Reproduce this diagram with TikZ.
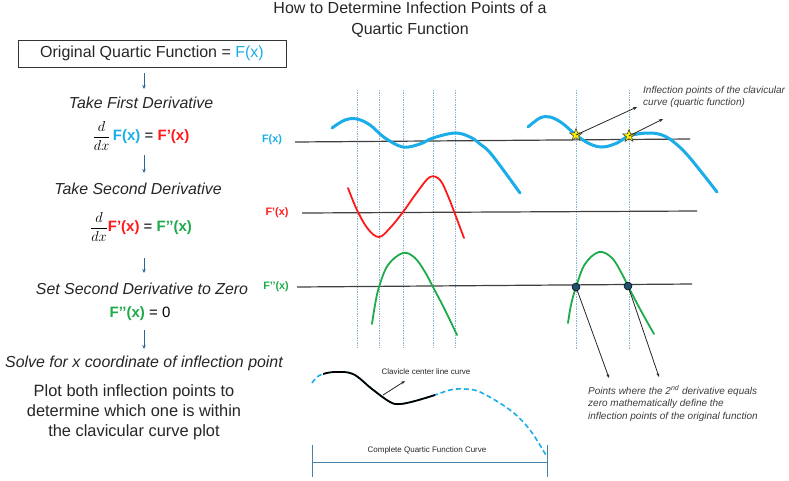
\documentclass[tikz,border=0pt]{standalone}
\usepackage{fontspec}
\setmainfont{Liberation Sans}
\usetikzlibrary{arrows.meta,shapes.geometric}
\definecolor{fblue}{HTML}{1AADE8}
\definecolor{fred}{HTML}{FF1A1A}
\definecolor{fgreen}{HTML}{1DAA4A}
\definecolor{flowarrow}{HTML}{2E6696}
\definecolor{guide}{HTML}{8DB3CE}
\definecolor{axisgray}{HTML}{3F3F3F}
\definecolor{dotfill}{HTML}{1E5070}
\definecolor{bracketcol}{HTML}{4A7FA8}
\definecolor{txtgray}{HTML}{262626}
\newcommand{\fsz}[2]{\fontsize{#1}{#2}\selectfont}
\newcommand{\ddxfrac}{$\displaystyle\frac{d}{dx}$}
\begin{document}
\begin{tikzpicture}[x=1pt,y=-1pt,
  flowarr/.style={draw=flowarrow, line width=0.9pt, -{Stealth[length=4pt,width=3.5pt]}},
  guideline/.style={draw=guide, line width=0.7pt, densely dotted},
  axisline/.style={draw=axisgray, line width=1.2pt},
  ptr/.style={draw=black!85, line width=0.8pt, -{Stealth[length=4pt,width=3pt]}},
  steptext/.style={font=\fsz{15.9}{19}\itshape, text=txtgray},
  eqtext/.style={font=\fsz{15}{18}},
  fnlabel/.style={font=\fsz{10.8}{12}\bfseries},
  note/.style={font=\fsz{10}{12.3}\itshape, text=txtgray!90, align=left, anchor=west, inner sep=0},
  small/.style={font=\fsz{8}{9}, text=txtgray, inner sep=0},
  curveF/.style={draw=fblue, line width=3pt, line cap=round},
  curveD/.style={draw=fred, line width=1.8pt, line cap=round},
  curveDD/.style={draw=fgreen, line width=1.8pt, line cap=round},
  starmark/.style={star, star points=5, star point ratio=2.4, fill=yellow, draw=black!75, line width=0.6pt, minimum size=13pt, inner sep=0},
  dotmark/.style={circle, fill=dotfill, draw=black, line width=0.5pt, minimum size=8pt, inner sep=0}
]
\useasboundingbox (0,0) rectangle (789,480);

% title
\node[align=center, font=\fsz{16}{21}, text=txtgray] (title) at (410,20) {How to Determine Infection Points of a\\Quartic Function};

% left flow
\node[draw=black!80, line width=0.9pt, minimum width=268pt, minimum height=27pt, font=\fsz{16}{18}, text=txtgray] (orig) at (152,53.5) {Original Quartic Function = {\color{fblue}F(x)}};
\coordinate (a1s) at (144,73); \coordinate (a1e) at (144,89);
\draw[flowarr] (a1s) -- (a1e);
\node[steptext] (t1) at (141,103) {Take First Derivative};
\node[eqtext] (e1) at (141,136) {\ddxfrac\,{\bfseries\color{fblue}F(x)} = {\bfseries\color{fred}F’(x)}};
\coordinate (a2s) at (144,155); \coordinate (a2e) at (144,173);
\draw[flowarr] (a2s) -- (a2e);
\node[steptext] (t2) at (138,189) {Take Second Derivative};
\node[eqtext] (e2) at (141,227) {\ddxfrac{\bfseries\color{fred}F’(x)} = {\bfseries\color{fgreen}F’’(x)}};
\coordinate (a3s) at (144,258); \coordinate (a3e) at (144,273);
\draw[flowarr] (a3s) -- (a3e);
\node[steptext] (t3) at (142,289) {Set Second Derivative to Zero};
\node[eqtext] (e3) at (140,314) {{\bfseries\color{fgreen}F’’(x)} = 0};
\coordinate (a4s) at (144,330); \coordinate (a4e) at (144,349);
\draw[flowarr] (a4s) -- (a4e);
\node[steptext] (t4) at (144,363) {Solve for x coordinate of inflection point};
\node[align=center, font=\fsz{16.4}{20}, text=txtgray] (t5) at (134,412) {Plot both inflection points to\\determine which one is within\\the clavicular curve plot};

% guide lines
\foreach \gx/\gn in {357/g1,379/g2,403/g3,433/g4,455/g5}{
  \coordinate (\gn t) at (\gx,90); \coordinate (\gn b) at (\gx,347);
  \draw[guideline] (\gn t) -- (\gn b);
}
\foreach \gx/\gn in {576/h1,629/h2}{
  \coordinate (\gn t) at (\gx,90); \coordinate (\gn b) at (\gx,350);
  \draw[guideline] (\gn t) -- (\gn b);
}

% axes
\coordinate (ax1l) at (295,142); \coordinate (ax1r) at (690,139);
\coordinate (ax2l) at (302,213); \coordinate (ax2r) at (697,211);
\coordinate (ax3l) at (297,287); \coordinate (ax3r) at (692,284);
\draw[axisline] (ax1l) -- (ax1r);
\draw[axisline] (ax2l) -- (ax2r);
\draw[axisline] (ax3l) -- (ax3r);
\node[fnlabel, text=fblue] (lf) at (272,140) {F(x)};
\node[fnlabel, text=fred] (lfp) at (277,213) {F’(x)};
\node[fnlabel, text=fgreen] (lfpp) at (276,287) {F’’(x)};

% curves
\draw[curveF] plot[smooth, tension=0.6] coordinates {(332,128) (345,120) (357,119) (370,125) (385,138) (403,147) (420,144) (433,138) (455,133) (470,137) (480,144) (492,155) (520,193)};
\draw[curveF] plot[smooth, tension=0.6] coordinates {(528,127) (540,118) (550,117) (562,123) (576,135) (590,144) (603,147) (617,143) (629,136) (647,133) (662,135) (675,143) (690,158) (717,192)};
\draw[curveD] plot[smooth, tension=0.6] coordinates {(348,188) (357,210) (368,229) (379,237) (390,228) (403,212) (418,191) (430,177) (440,180) (448,196) (455,214) (464,238)};
\draw[curveDD] plot[smooth, tension=0.6] coordinates {(372,324) (375,305) (379,287) (388,265) (403,253) (415,258) (425,272) (433,287) (445,310) (457,335)};
\draw[curveDD] plot[smooth, tension=0.6] coordinates {(568,323) (571,305) (576,287) (585,264) (599,252) (612,258) (622,274) (628,286) (640,309) (654,334)};

% stars and arrows
\node[starmark] (s1) at (576,135) {};
\node[starmark] (s2) at (629,136) {};
\coordinate (s1e) at (637,107); \coordinate (s2e) at (663,119);
\draw[ptr] (s1.center) -- (s1e);
\draw[ptr] (s2.center) -- (s2e);
\node[note] (n1) at (643,97) {Inflection points of the clavicular\\curve (quartic function)};

% dots and arrows
\coordinate (d1c) at (576,287); \coordinate (d2c) at (628,286);
\coordinate (d1e) at (609,378); \coordinate (d2e) at (659,377);
\draw[ptr] (d1c) -- (d1e);
\draw[ptr] (d2c) -- (d2e);
\node[dotmark] (d1) at (d1c) {};
\node[dotmark] (d2) at (d2c) {};
\node[note] (n2) at (588,403.5) {Points where the 2\textsuperscript{nd} derivative equals\\zero mathematically define the\\inflection points of the original function};

% bottom curve
\def\bcurve{plot[smooth, tension=0.6] coordinates {(312,383) (317,377) (323,374) (335,372) (353,374) (372,389) (390,402) (400,404) (415,401) (435,395) (450,390) (463,389) (480,392) (510,410) (530,430) (547,457)}}
\draw[draw=fblue, line width=1.6pt, dash pattern=on 5pt off 3pt] \bcurve;
\begin{scope}
  \clip (323,350) rectangle (435,420);
  \draw[draw=black, line width=1.8pt] \bcurve;
\end{scope}
\node[small] (cl) at (426,372) {Clavicle center line curve};
\coordinate (cls) at (383,395); \coordinate (cle) at (405,381);
\draw[ptr] (cls) -- (cle);

% bracket
\coordinate (bl) at (312,462); \coordinate (br) at (547,462);
\coordinate (blt) at (312,445); \coordinate (blb) at (312,477);
\coordinate (brt) at (547,445); \coordinate (brb) at (547,477);
\draw[draw=bracketcol, line width=1pt] (bl) -- (br);
\draw[draw=bracketcol, line width=1pt] (blt) -- (blb);
\draw[draw=bracketcol, line width=1pt] (brt) -- (brb);
\node[small] (cq) at (427,450) {Complete Quartic Function Curve};
\end{tikzpicture}
\end{document}
